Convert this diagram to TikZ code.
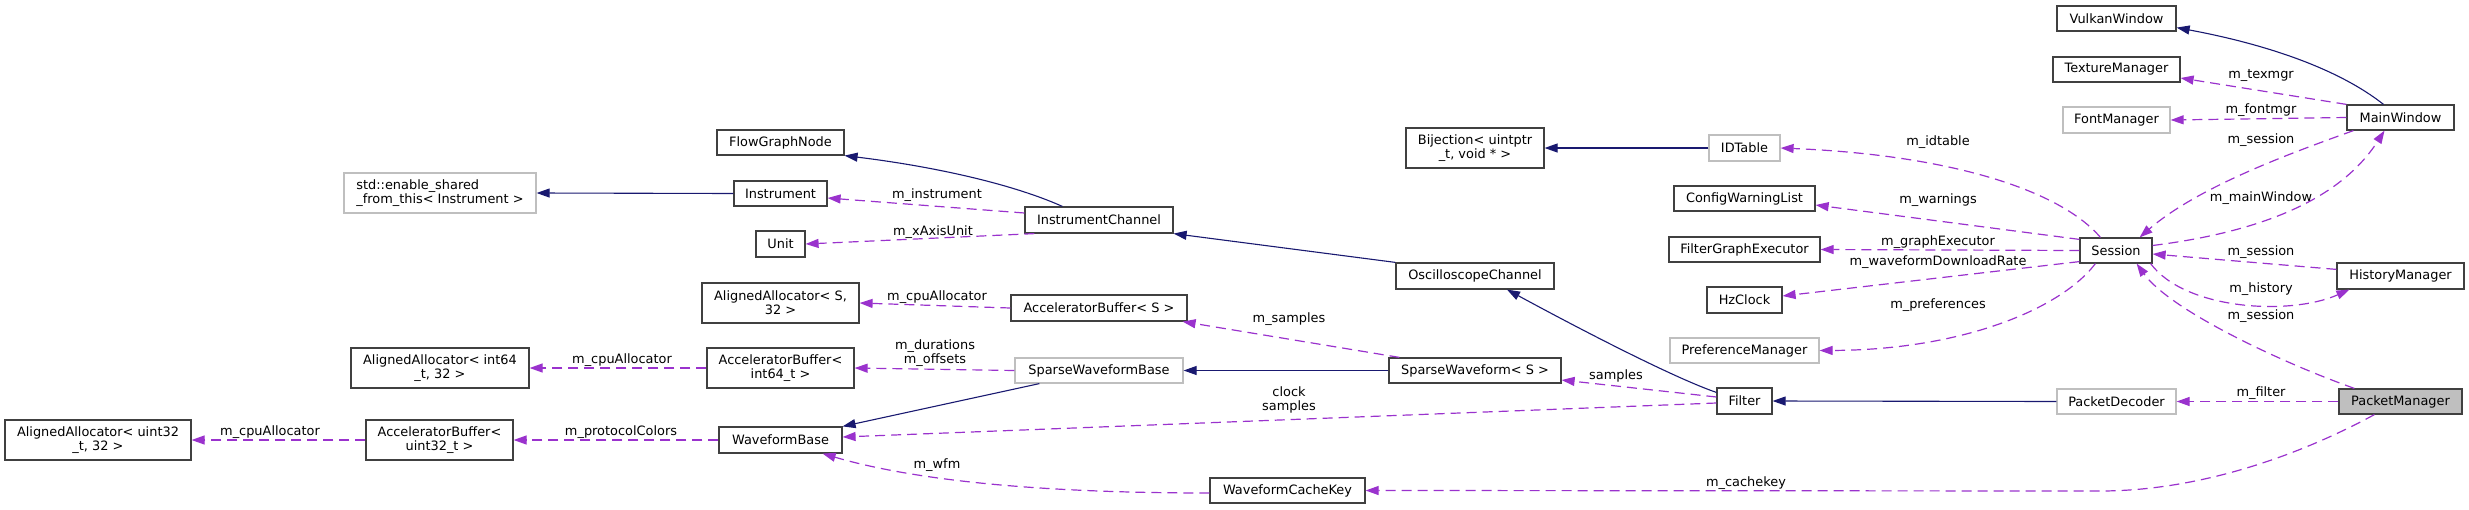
\documentclass[tikz,border=0pt]{standalone}
\usepackage{fontspec}
\setmainfont{DejaVu Sans}
\usetikzlibrary{arrows.meta,calc}
\definecolor{inhcol}{HTML}{191970}
\definecolor{usecol}{HTML}{9A32CD}
\definecolor{bdark}{HTML}{404040}
\definecolor{blight}{HTML}{BFBFBF}
\newcommand\mkbox[7][]{\node[clsbox,#1,minimum width={(#5-#3)*0.5pt},minimum height={(#6-#4)*0.5pt}] (#2) at ({(#3+#5)/2},{(#4+#6)/2}) {#7};}
\begin{document}
\begin{tikzpicture}[x=0.5pt,y=-0.5pt,
  clsbox/.style={draw=bdark,line width=0.6pt,fill=white,inner sep=0pt,align=center,font=\fontsize{6.45}{7}\selectfont},
  graybox/.style={draw=blight},
  selbox/.style={fill=blight},
  lbl/.style={inner sep=0pt,align=center,font=\fontsize{6.45}{7}\selectfont},
  inhedge/.style={draw=inhcol,line width=0.55pt,-{Triangle[length=6.5pt,width=4.5pt]}},
  usedge/.style={draw=usecol,line width=0.6pt,dash pattern=on 5pt off 3pt,-{Triangle[length=6.5pt,width=4.5pt]}}]
\useasboundingbox (0,0) rectangle (2469,509);
% nodes
\mkbox[graybox,align=left]{esf}{344}{173}{536}{213}{std::enable\_shared\\\_from\_this< Instrument >}
\mkbox{fgn}{717}{130}{844}{155}{FlowGraphNode}
\mkbox{inst}{734}{181}{827}{206}{Instrument}
\mkbox{unit}{756}{231}{805}{257}{Unit}
\mkbox{aas}{702}{283}{859}{323}{AlignedAllocator< S,\\32 >}
\mkbox{aai64}{351}{348}{529}{388}{AlignedAllocator< int64\\\_t, 32 >}
\mkbox{abi64}{707}{348}{854}{388}{AcceleratorBuffer<\\int64\_t >}
\mkbox{aau32}{5}{420}{191}{460}{AlignedAllocator< uint32\\\_t, 32 >}
\mkbox{abu32}{366}{420}{513}{460}{AcceleratorBuffer<\\uint32\_t >}
\mkbox{wfb}{719}{427}{842}{453}{WaveformBase}
\mkbox{ic}{1025}{207}{1173}{233}{InstrumentChannel}
\mkbox{abs}{1011}{295}{1187}{321}{AcceleratorBuffer< S >}
\mkbox[graybox]{swb}{1015}{358}{1183}{383}{SparseWaveformBase}
\mkbox{wck}{1210}{478}{1365}{503}{WaveformCacheKey}
\mkbox{osc}{1396}{263}{1554}{289}{OscilloscopeChannel}
\mkbox{bij}{1406}{128}{1544}{168}{Bijection< uintptr\\\_t, void * >}
\mkbox[graybox]{idt}{1709}{135}{1780}{161}{IDTable}
\mkbox{cwl}{1674}{186}{1815}{211}{ConfigWarningList}
\mkbox{fge}{1669}{237}{1820}{262}{FilterGraphExecutor}
\mkbox{hz}{1707}{287}{1782}{313}{HzClock}
\mkbox[graybox]{pref}{1670}{338}{1819}{363}{PreferenceManager}
\mkbox{sws}{1389}{358}{1561}{383}{SparseWaveform< S >}
\mkbox{filt}{1717}{388}{1772}{414}{Filter}
\mkbox{vw}{2057}{6}{2176}{31}{VulkanWindow}
\mkbox{tm}{2053}{57}{2180}{82}{TextureManager}
\mkbox[graybox]{fm}{2063}{107}{2170}{133}{FontManager}
\mkbox{mw}{2347}{105}{2454}{130}{MainWindow}
\mkbox{sess}{2080}{238}{2152}{263}{Session}
\mkbox{hm}{2337}{263}{2464}{289}{HistoryManager}
\mkbox[graybox]{pd}{2057}{389}{2176}{414}{PacketDecoder}
\mkbox[selbox]{pm}{2339}{389}{2462}{414}{PacketManager}
% inheritance edges
\draw[inhedge] (inst.west) -- (esf.east);
\draw[inhedge] ($(ic.north west)+(38,0)$) .. controls (1010,183) and (930,166) .. (fgn.south east);
\draw[inhedge] (osc.north west) -- (ic.south east);
\draw[inhedge] ($(filt.north west)+(0,5)$) .. controls (1680,380) and (1600,340) .. ($(osc.south)+(32,0)$);
\draw[inhedge] (sws.west) -- (swb.east);
\draw[inhedge] ($(swb.south west)+(25,0)$) -- (wfb.north east);
\draw[inhedge] (idt.west) -- (bij.east);
\draw[inhedge] ($(mw.north)+(-17,0)$) .. controls (2340,70) and (2270,45) .. ($(vw.south east)+(0,-4)$);
\draw[inhedge] (pd.west) -- (filt.east);
% usage edges
\draw[usedge] ($(ic.west)+(0,-7)$) -- ($(inst.east)+(0,4.5)$);
\draw[usedge] ($(ic.south west)+(10,0)$) -- (unit.east);
\draw[usedge] (abs.west) -- (aas.east);
\draw[usedge] (abi64.west) -- (aai64.east);
\draw[usedge] (swb.west) -- (abi64.east);
\draw[usedge] (abu32.west) -- (aau32.east);
\draw[usedge] (wfb.west) -- (abu32.east);
\draw[usedge] ($(sws.north west)+(11,0)$) -- ($(abs.south east)+(-5,0)$);
\draw[usedge] ($(filt.west)+(0,-4)$) -- ($(sws.east)+(0,9.5)$);
\draw[usedge] ($(filt.west)+(0,2)$) -- ($(wfb.east)+(0,-3)$);
\draw[usedge] ($(wck.west)+(0,2.5)$) .. controls (1050,493) and (920,482) .. ($(wfb.south east)+(-20,0)$);
\draw[usedge] ($(pm.south west)+(36,0)$) .. controls (2300,455) and (2200,491) .. (2100,491) -- (wck.east);
\draw[usedge] (pm.west) -- (pd.east);
\draw[usedge] ($(pm.north west)+(16,0)$) .. controls (2280,362) and (2170,310) .. ($(sess.south east)+(-16,0)$);
\draw[usedge] ($(hm.north west)+(0,7)$) -- ($(sess.east)+(0,3.5)$);
\draw[usedge] ($(sess.south east)+(-2,0)$) .. controls (2185,310) and (2290,316) .. ($(hm.south west)+(13,0)$);
\draw[usedge] ($(mw.south west)+(7,0)$) .. controls (2300,150) and (2200,185) .. ($(sess.north east)+(-13,0)$);
\draw[usedge] ($(sess.east)+(0,-5)$) .. controls (2260,232) and (2340,200) .. ($(mw.south)+(-16,0)$);
\draw[usedge] (mw.north west) -- ($(tm.east)+(0,8.5)$);
\draw[usedge] (mw.west) -- (fm.east);
\draw[usedge] ($(sess.north west)+(21,0)$) .. controls (2060,190) and (1950,155) .. (idt.east);
\draw[usedge] ($(sess.north west)+(0,2)$) -- ($(cwl.east)+(0,6.5)$);
\draw[usedge] (sess.west) -- (fge.east);
\draw[usedge] ($(sess.south west)+(0,-2)$) -- ($(hz.east)+(0,-4)$);
\draw[usedge] ($(sess.south west)+(16,0)$) .. controls (2060,310) and (1960,350) .. (pref.east);
% labels
\node[lbl] (l1) at (937,195) {m\_instrument};
\node[lbl] (l2) at (933,232) {m\_xAxisUnit};
\node[lbl] (l3) at (937,297) {m\_cpuAllocator};
\node[lbl] (l4) at (935,353) {m\_durations\\m\_offsets};
\node[lbl] (l5) at (622,360) {m\_cpuAllocator};
\node[lbl] (l6) at (621,432) {m\_protocolColors};
\node[lbl] (l7) at (270,432) {m\_cpuAllocator};
\node[lbl] (l8) at (1289,319) {m\_samples};
\node[lbl] (l9) at (1289,400) {clock\\samples};
\node[lbl] (l10) at (937,465) {m\_wfm};
\node[lbl] (l11) at (1616,376) {samples};
\node[lbl] (l12) at (1746,483) {m\_cachekey};
\node[lbl] (l13) at (2261,393) {m\_filter};
\node[lbl] (l14) at (2261,316) {m\_session};
\node[lbl] (l15) at (2261,289) {m\_history};
\node[lbl] (l16) at (2261,252) {m\_session};
\node[lbl] (l17) at (2261,198) {m\_mainWindow};
\node[lbl] (l18) at (2261,140) {m\_session};
\node[lbl] (l19) at (2261,110) {m\_fontmgr};
\node[lbl] (l20) at (2261,75) {m\_texmgr};
\node[lbl] (l21) at (1938,142) {m\_idtable};
\node[lbl] (l22) at (1938,200) {m\_warnings};
\node[lbl] (l23) at (1938,242) {m\_graphExecutor};
\node[lbl] (l24) at (1938,262) {m\_waveformDownloadRate};
\node[lbl] (l25) at (1938,305) {m\_preferences};
\end{tikzpicture}
\end{document}
